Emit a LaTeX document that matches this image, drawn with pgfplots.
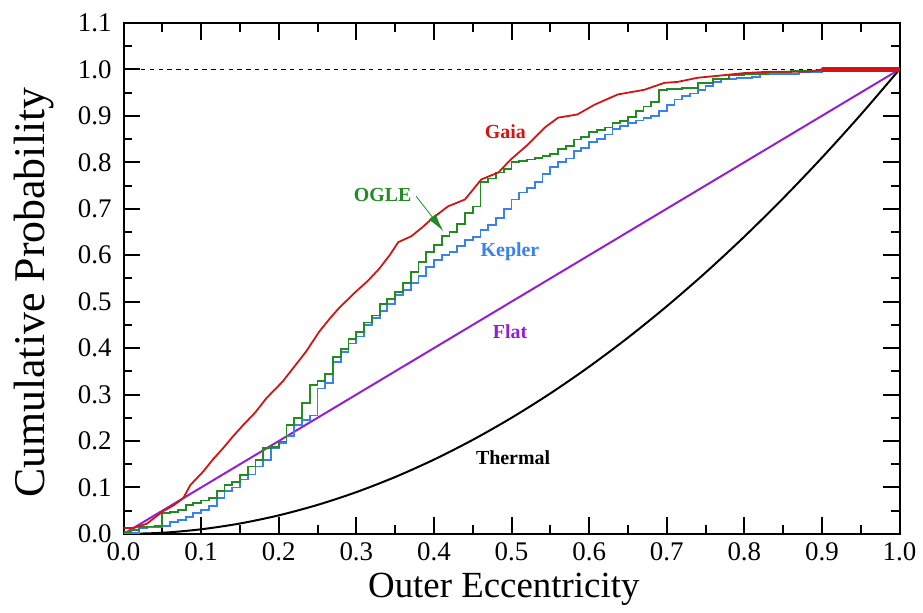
\documentclass[border=0pt]{standalone}
\usepackage{fontspec}
\setmainfont{Liberation Serif}
\usepackage{pgfplots}
\pgfplotsset{compat=1.18}
\usetikzlibrary{arrows.meta}
\definecolor{gaiared}{RGB}{210,20,20}
\definecolor{oglegreen}{RGB}{34,139,34}
\definecolor{keplerblue}{RGB}{55,130,240}
\definecolor{flatpurple}{RGB}{150,30,210}

\begin{document}
\begin{tikzpicture}
\begin{axis}[
  at={(0,0)}, anchor=south west,
  scale only axis,
  width=389.5pt, height=256.5pt,
  xmin=0, xmax=1, ymin=0, ymax=1.1,
  xtick={0,0.1,...,1.0},
  ytick={0,0.1,...,1.1},
  minor x tick num=1, minor y tick num=1,
  tick pos=both, tick align=inside,
  major tick length=8.5pt, minor tick length=4.5pt,
  every tick/.style={black, line width=1pt},
  axis line style={line width=1pt},
  /pgf/number format/assume math mode=true,
  /pgf/number format/.cd, fixed, fixed zerofill, precision=1,
  /pgfplots/.cd,
  ticklabel style={font=\fontsize{13.5}{15}\selectfont},
  xticklabel style={yshift=-1pt},
  yticklabel style={xshift=-2.5pt},
  xlabel={Outer Eccentricity},
  ylabel={Cumulative Probability},
  xlabel style={font=\fontsize{18.5}{21}\selectfont, at={(axis description cs:0.49,-0.109)}, anchor=center},
  ylabel style={font=\fontsize{22}{25}\selectfont, at={(axis description cs:-0.115,0.472)}, anchor=center},
]
% reference line at 1
\addplot[black, line width=0.7pt, dash pattern=on 2.2pt off 2.2pt] coordinates {(0,1) (1,1)};
% thermal
\addplot[black, line width=1pt, smooth] coordinates {
(0,0) (0.05,0.0025) (0.1,0.01) (0.15,0.0225) (0.2,0.04) (0.25,0.0625) (0.3,0.09)
(0.35,0.1225) (0.4,0.16) (0.45,0.2025) (0.5,0.25) (0.55,0.3025) (0.6,0.36)
(0.65,0.4225) (0.7,0.49) (0.75,0.5625) (0.8,0.64) (0.85,0.7225) (0.9,0.81)
(0.95,0.9025) (1,1)};
% flat
\addplot[flatpurple, line width=1pt] coordinates {(0,0) (1,1)};
% Kepler
\addplot[keplerblue, line width=0.9pt, const plot] coordinates {
(0.00,0.002) (0.02,0.012) (0.03,0.015) (0.05,0.017) (0.06,0.025) (0.07,0.030)
(0.08,0.036) (0.09,0.045) (0.10,0.052) (0.11,0.060) (0.12,0.078) (0.13,0.092)
(0.14,0.100) (0.15,0.117) (0.16,0.128) (0.17,0.145) (0.18,0.160) (0.19,0.184)
(0.20,0.195) (0.21,0.210) (0.22,0.234) (0.23,0.245) (0.24,0.255) (0.25,0.313)
(0.26,0.325) (0.27,0.370) (0.28,0.392) (0.29,0.410) (0.30,0.425) (0.31,0.450)
(0.32,0.465) (0.33,0.480) (0.34,0.495) (0.35,0.515) (0.36,0.525) (0.37,0.540)
(0.38,0.555) (0.39,0.575) (0.40,0.590) (0.41,0.600) (0.42,0.607) (0.43,0.620)
(0.44,0.632) (0.45,0.640) (0.46,0.655) (0.47,0.665) (0.48,0.680) (0.49,0.700)
(0.50,0.720) (0.51,0.735) (0.52,0.745) (0.53,0.758) (0.54,0.775) (0.55,0.790)
(0.56,0.800) (0.57,0.808) (0.58,0.825) (0.59,0.830) (0.60,0.843) (0.61,0.850)
(0.62,0.860) (0.63,0.872) (0.64,0.878) (0.65,0.885) (0.66,0.890) (0.67,0.896)
(0.68,0.900) (0.69,0.910) (0.70,0.924) (0.71,0.935) (0.72,0.942) (0.73,0.948)
(0.74,0.955) (0.75,0.965) (0.76,0.972) (0.77,0.980) (0.79,0.982) (0.81,0.984)
(0.82,0.990) (0.87,0.995) (0.90,1.000) (1.00,1.000)};
% OGLE
\addplot[oglegreen, line width=0.9pt, const plot] coordinates {
(0.00,0.005) (0.01,0.008) (0.02,0.015) (0.03,0.016) (0.04,0.017) (0.05,0.045)
(0.06,0.048) (0.07,0.052) (0.08,0.062) (0.09,0.067) (0.10,0.072) (0.11,0.078)
(0.12,0.092) (0.13,0.105) (0.14,0.112) (0.15,0.127) (0.16,0.145) (0.17,0.160)
(0.18,0.185) (0.19,0.188) (0.20,0.199) (0.21,0.234) (0.22,0.250) (0.23,0.282)
(0.24,0.320) (0.25,0.330) (0.26,0.345) (0.27,0.381) (0.28,0.398) (0.29,0.420)
(0.30,0.435) (0.31,0.455) (0.32,0.470) (0.33,0.495) (0.34,0.505) (0.35,0.520)
(0.36,0.540) (0.37,0.563) (0.38,0.585) (0.39,0.607) (0.40,0.622) (0.41,0.641)
(0.42,0.650) (0.43,0.668) (0.44,0.690) (0.45,0.705) (0.46,0.757) (0.47,0.765)
(0.48,0.778) (0.49,0.785) (0.50,0.800) (0.51,0.803) (0.52,0.806) (0.53,0.809)
(0.54,0.813) (0.55,0.818) (0.56,0.828) (0.57,0.835) (0.58,0.849) (0.59,0.855)
(0.60,0.866) (0.61,0.870) (0.62,0.875) (0.63,0.885) (0.64,0.888) (0.65,0.898)
(0.66,0.910) (0.67,0.920) (0.68,0.930) (0.69,0.956) (0.70,0.957) (0.72,0.960)
(0.74,0.971) (0.76,0.980) (0.78,0.988) (0.80,0.990) (0.83,0.994) (0.86,0.997)
(0.90,1.000) (1.00,1.000)};
% Gaia
\addplot[gaiared, line width=0.9pt] coordinates {
(0,0.013) (0.013,0.013) (0.03,0.022) (0.051,0.049) (0.065,0.062) (0.077,0.077)
(0.086,0.105) (0.103,0.135) (0.115,0.160) (0.128,0.184) (0.14,0.208) (0.154,0.234)
(0.17,0.262) (0.184,0.292) (0.205,0.328) (0.22,0.360) (0.235,0.392) (0.252,0.435)
(0.265,0.462) (0.277,0.485) (0.299,0.521) (0.315,0.545) (0.329,0.570) (0.343,0.600)
(0.354,0.628) (0.371,0.641) (0.385,0.660) (0.397,0.678) (0.418,0.705) (0.440,0.720)
(0.461,0.763) (0.483,0.778) (0.499,0.806) (0.521,0.838) (0.543,0.875) (0.560,0.896)
(0.585,0.903) (0.607,0.924) (0.637,0.946) (0.671,0.956) (0.697,0.971) (0.714,0.973)
(0.74,0.982) (0.765,0.986) (0.80,0.992) (0.833,0.995) (0.884,0.995) (0.90,1.0)};
\addplot[gaiared, line width=2.2pt] coordinates {(0.9,1) (1,1)};
% OGLE pointer
\addplot[oglegreen, line width=0.4pt, -{Latex[length=9pt,width=4.5pt]}] coordinates {(0.377,0.727) (0.412,0.652)};
\node[gaiared, font=\fontsize{10}{12}\selectfont\bfseries] at (axis cs:0.492,0.866) {Gaia};
\node[oglegreen, font=\fontsize{10}{12}\selectfont\bfseries] at (axis cs:0.334,0.729) {OGLE};
\node[keplerblue, font=\fontsize{10}{12}\selectfont\bfseries] at (axis cs:0.498,0.607) {Kepler};
\node[flatpurple, font=\fontsize{10}{12}\selectfont\bfseries] at (axis cs:0.498,0.435) {Flat};
\node[black, font=\fontsize{10}{12}\selectfont\bfseries] at (axis cs:0.502,0.165) {Thermal};
\end{axis}
\path (-62pt,-38.5pt) rectangle (399.5pt,268pt);
\end{tikzpicture}
\end{document}
